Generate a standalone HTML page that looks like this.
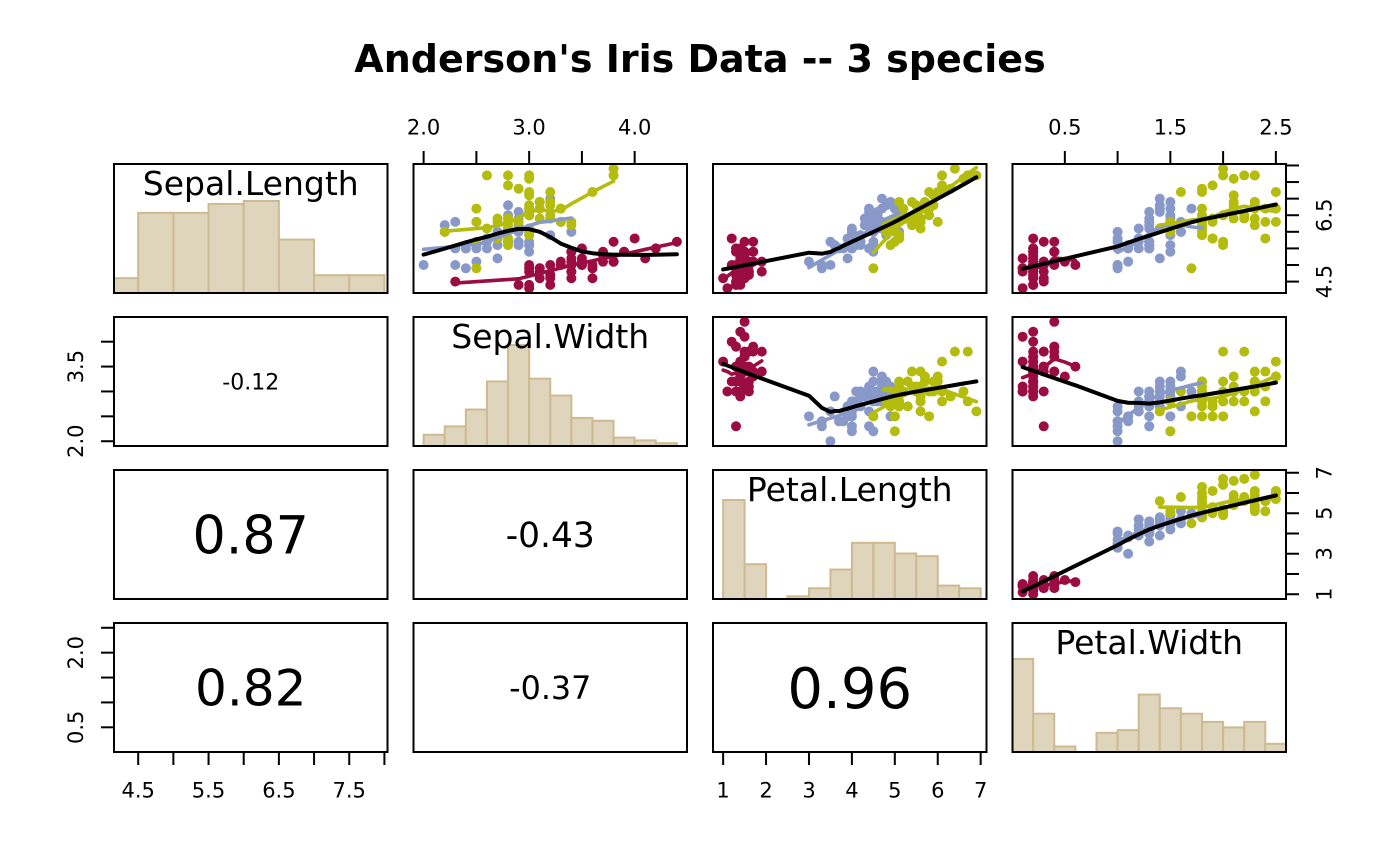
<!DOCTYPE html>
<html><head><meta charset="utf-8">
<style>
html,body{margin:0;padding:0;background:#fff;width:1400px;height:866px;overflow:hidden}
svg{display:block}
text{font-family:"DejaVu Sans","Liberation Sans",sans-serif;fill:#000}
</style></head><body>
<svg id="chart" xmlns="http://www.w3.org/2000/svg" width="1400" height="866" viewBox="0 0 1400 866">
<rect width="1400" height="866" fill="#fff"/>
<defs id="defs"></defs>
<g id="hist"></g>
<g id="pts"></g>
<g id="lines"></g>
<g font-size="33" text-anchor="middle">
<text x="250.75" y="195">Sepal.Length</text>
<text x="550.25" y="348">Sepal.Width</text>
<text x="849.75" y="501">Petal.Length</text>
<text x="1149.25" y="654">Petal.Width</text>
</g>
<g text-anchor="middle">
<text x="250.75" y="389.5" font-size="22">-0.12</text>
<text x="250.75" y="553.5" font-size="52.3">0.87</text>
<text x="550.25" y="547" font-size="34.4">-0.43</text>
<text x="250.75" y="705.7" font-size="50.1">0.82</text>
<text x="550.25" y="699" font-size="31.8">-0.37</text>
<text x="849.75" y="707.9" font-size="56">0.96</text>
</g>
<g fill="none" stroke="#000" stroke-width="2">
<rect x="114" y="164" width="273.5" height="129"/>
<rect x="413.5" y="164" width="273.5" height="129"/>
<rect x="713" y="164" width="273.5" height="129"/>
<rect x="1012.5" y="164" width="273.5" height="129"/>
<rect x="114" y="317" width="273.5" height="129"/>
<rect x="413.5" y="317" width="273.5" height="129"/>
<rect x="713" y="317" width="273.5" height="129"/>
<rect x="1012.5" y="317" width="273.5" height="129"/>
<rect x="114" y="470" width="273.5" height="129"/>
<rect x="413.5" y="470" width="273.5" height="129"/>
<rect x="713" y="470" width="273.5" height="129"/>
<rect x="1012.5" y="470" width="273.5" height="129"/>
<rect x="114" y="623" width="273.5" height="129"/>
<rect x="413.5" y="623" width="273.5" height="129"/>
<rect x="713" y="623" width="273.5" height="129"/>
<rect x="1012.5" y="623" width="273.5" height="129"/>
</g>
<g id="ticks" stroke="#000" stroke-width="2"></g>
<text x="700" y="72" text-anchor="middle" font-size="38" font-weight="bold">Anderson's Iris Data -- 3 species</text>
<g font-size="21" text-anchor="middle">
<text x="423.6" y="134.7">2.0</text>
<text x="529.1" y="134.7">3.0</text>
<text x="634.7" y="134.7">4.0</text>
<text x="1064.8" y="134.7">0.5</text>
<text x="1170.4" y="134.7">1.5</text>
<text x="1275.9" y="134.7">2.5</text>
<text x="138.2" y="797.7">4.5</text>
<text x="208.5" y="797.7">5.5</text>
<text x="278.9" y="797.7">6.5</text>
<text x="349.2" y="797.7">7.5</text>
<text x="723.1" y="797.7">1</text>
<text x="766.1" y="797.7">2</text>
<text x="809.0" y="797.7">3</text>
<text x="851.9" y="797.7">4</text>
<text x="894.8" y="797.7">5</text>
<text x="937.8" y="797.7">6</text>
<text x="980.7" y="797.7">7</text>
<text transform="translate(1331.3,281.6) rotate(-90)">4.5</text>
<text transform="translate(1331.3,215.2) rotate(-90)">6.5</text>
<text transform="translate(1331.3,594.2) rotate(-90)">1</text>
<text transform="translate(1331.3,553.7) rotate(-90)">3</text>
<text transform="translate(1331.3,513.2) rotate(-90)">5</text>
<text transform="translate(1331.3,472.8) rotate(-90)">7</text>
<text transform="translate(83,441.2) rotate(-90)">2.0</text>
<text transform="translate(83,366.6) rotate(-90)">3.5</text>
<text transform="translate(83,727.3) rotate(-90)">0.5</text>
<text transform="translate(83,652.7) rotate(-90)">2.0</text>
</g>
</svg>
<script>
const D = `5.1 3.5 1.4 0.2
4.9 3.0 1.4 0.2
4.7 3.2 1.3 0.2
4.6 3.1 1.5 0.2
5.0 3.6 1.4 0.2
5.4 3.9 1.7 0.4
4.6 3.4 1.4 0.3
5.0 3.4 1.5 0.2
4.4 2.9 1.4 0.2
4.9 3.1 1.5 0.1
5.4 3.7 1.5 0.2
4.8 3.4 1.6 0.2
4.8 3.0 1.4 0.1
4.3 3.0 1.1 0.1
5.8 4.0 1.2 0.2
5.7 4.4 1.5 0.4
5.4 3.9 1.3 0.4
5.1 3.5 1.4 0.3
5.7 3.8 1.7 0.3
5.1 3.8 1.5 0.3
5.4 3.4 1.7 0.2
5.1 3.7 1.5 0.4
4.6 3.6 1.0 0.2
5.1 3.3 1.7 0.5
4.8 3.4 1.9 0.2
5.0 3.0 1.6 0.2
5.0 3.4 1.6 0.4
5.2 3.5 1.5 0.2
5.2 3.4 1.4 0.2
4.7 3.2 1.6 0.2
4.8 3.1 1.6 0.2
5.4 3.4 1.5 0.4
5.2 4.1 1.5 0.1
5.5 4.2 1.4 0.2
4.9 3.1 1.5 0.2
5.0 3.2 1.2 0.2
5.5 3.5 1.3 0.2
4.9 3.6 1.4 0.1
4.4 3.0 1.3 0.2
5.1 3.4 1.5 0.2
5.0 3.5 1.3 0.3
4.5 2.3 1.3 0.3
4.4 3.2 1.3 0.2
5.0 3.5 1.6 0.6
5.1 3.8 1.9 0.4
4.8 3.0 1.4 0.3
5.1 3.8 1.6 0.2
4.6 3.2 1.4 0.2
5.3 3.7 1.5 0.2
5.0 3.3 1.4 0.2
7.0 3.2 4.7 1.4
6.4 3.2 4.5 1.5
6.9 3.1 4.9 1.5
5.5 2.3 4.0 1.3
6.5 2.8 4.6 1.5
5.7 2.8 4.5 1.3
6.3 3.3 4.7 1.6
4.9 2.4 3.3 1.0
6.6 2.9 4.6 1.3
5.2 2.7 3.9 1.4
5.0 2.0 3.5 1.0
5.9 3.0 4.2 1.5
6.0 2.2 4.0 1.0
6.1 2.9 4.7 1.4
5.6 2.9 3.6 1.3
6.7 3.1 4.4 1.4
5.6 3.0 4.5 1.5
5.8 2.7 4.1 1.0
6.2 2.2 4.5 1.5
5.6 2.5 3.9 1.1
5.9 3.2 4.8 1.8
6.1 2.8 4.0 1.3
6.3 2.5 4.9 1.5
6.1 2.8 4.7 1.2
6.4 2.9 4.3 1.3
6.6 3.0 4.4 1.4
6.8 2.8 4.8 1.4
6.7 3.0 5.0 1.7
6.0 2.9 4.5 1.5
5.7 2.6 3.5 1.0
5.5 2.4 3.8 1.1
5.5 2.4 3.7 1.0
5.8 2.7 3.9 1.2
6.0 2.7 5.1 1.6
5.4 3.0 4.5 1.5
6.0 3.4 4.5 1.6
6.7 3.1 4.7 1.5
6.3 2.3 4.4 1.3
5.6 3.0 4.1 1.3
5.5 2.5 4.0 1.3
5.5 2.6 4.4 1.2
6.1 3.0 4.6 1.4
5.8 2.6 4.0 1.2
5.0 2.3 3.3 1.0
5.6 2.7 4.2 1.3
5.7 3.0 4.2 1.2
5.7 2.9 4.2 1.3
6.2 2.9 4.3 1.3
5.1 2.5 3.0 1.1
5.7 2.8 4.1 1.3
6.3 3.3 6.0 2.5
5.8 2.7 5.1 1.9
7.1 3.0 5.9 2.1
6.3 2.9 5.6 1.8
6.5 3.0 5.8 2.2
7.6 3.0 6.6 2.1
4.9 2.5 4.5 1.7
7.3 2.9 6.3 1.8
6.7 2.5 5.8 1.8
7.2 3.6 6.1 2.5
6.5 3.2 5.1 2.0
6.4 2.7 5.3 1.9
6.8 3.0 5.5 2.1
5.7 2.5 5.0 2.0
5.8 2.8 5.1 2.4
6.4 3.2 5.3 2.3
6.5 3.0 5.5 1.8
7.7 3.8 6.7 2.2
7.7 2.6 6.9 2.3
6.0 2.2 5.0 1.5
6.9 3.2 5.7 2.3
5.6 2.8 4.9 2.0
7.7 2.8 6.7 2.0
6.3 2.7 4.9 1.8
6.7 3.3 5.7 2.1
7.2 3.2 6.0 1.8
6.2 2.8 4.8 1.8
6.1 3.0 4.9 1.8
6.4 2.8 5.6 2.1
7.2 3.0 5.8 1.6
7.4 2.8 6.1 1.9
7.9 3.8 6.4 2.0
6.4 2.8 5.6 2.2
6.3 2.8 5.1 1.5
6.1 2.6 5.6 1.4
7.7 3.0 6.1 2.3
6.3 3.4 5.6 2.4
6.4 3.1 5.5 1.8
6.0 3.0 4.8 1.8
6.9 3.1 5.4 2.1
6.7 3.1 5.6 2.4
6.9 3.1 5.1 2.3
5.8 2.7 5.1 1.9
6.8 3.2 5.9 2.3
6.7 3.3 5.7 2.5
6.7 3.0 5.2 2.3
6.3 2.5 5.0 1.9
6.5 3.0 5.2 2.0
6.2 3.4 5.4 2.3
5.9 3.0 5.1 1.8`;
const rows = D.trim().split('\n').map(l=>l.trim().split(/\s+/).map(Number));
const sp = rows.map((r,i)=> i<50?0:(i<100?1:2));
const cols = ['#9B0D42','#8899C9','#B4BC0E'];
const colX=[114,413.5,713,1012.5], rowY=[164,317,470,623], W=273.5, H=129;
const rng=[[4.156,8.044],[1.904,4.496],[0.764,7.136],[0.004,2.596]];
function px(j,v){return colX[j]+(v-rng[j][0])/(rng[j][1]-rng[j][0])*W;}
function py(i,v){return rowY[i]+H-(v-rng[i][0])/(rng[i][1]-rng[i][0])*H;}
const NS='http://www.w3.org/2000/svg';
function el(tag, attrs, parent){const e=document.createElementNS(NS,tag);for(const k in attrs)e.setAttribute(k,attrs[k]);parent.appendChild(e);return e;}

function lowess(xin, yin, f, nsteps){
  const n = xin.length;
  const idx = xin.map((v,i)=>i).sort((a,b)=> (xin[a]-xin[b]) || (a-b));
  const x=[0], y=[0];
  idx.forEach(i=>{x.push(xin[i]); y.push(yin[i]);});
  const delta = 0.01*(x[n]-x[1]);
  const ys=new Array(n+1).fill(0), rw=new Array(n+1).fill(0), res=new Array(n+1).fill(0);
  const ns = Math.max(2, Math.min(n, Math.floor(f*n+1e-7)));
  function lowest(xs, nleft, nright, userw){
    const range = x[n]-x[1];
    const h = Math.max(xs-x[nleft], x[nright]-xs);
    const h9=0.999*h, h1=0.001*h;
    const w=res;
    let a=0, j=nleft;
    while(j<=n){
      w[j]=0;
      const r=Math.abs(x[j]-xs);
      if(r<=h9){
        if(r<=h1) w[j]=1; else {const q=r/h; const t=1-q*q*q; w[j]=t*t*t;}
        if(userw) w[j]*=rw[j];
        a+=w[j];
      } else if(x[j]>xs) break;
      j++;
    }
    const nrt=j-1;
    if(a<=0) return null;
    for(j=nleft;j<=nrt;j++) w[j]/=a;
    if(h>0){
      a=0;
      for(j=nleft;j<=nrt;j++) a+=w[j]*x[j];
      let b=xs-a, c=0;
      for(j=nleft;j<=nrt;j++) c+=w[j]*(x[j]-a)*(x[j]-a);
      if(Math.sqrt(c)>0.001*range){
        b/=c;
        for(j=nleft;j<=nrt;j++) w[j]*=(b*(x[j]-a)+1);
      }
    }
    let s=0;
    for(j=nleft;j<=nrt;j++) s+=w[j]*y[j];
    return s;
  }
  let iter=1;
  while(iter<=nsteps+1){
    let nleft=1, nright=ns, last=0, i=1;
    for(;;){
      if(nright<n){
        const d1=x[i]-x[nleft], d2=x[nright+1]-x[i];
        if(d1>d2){nleft++; nright++; continue;}
      }
      const v=lowest(x[i], nleft, nright, iter>1);
      ys[i]=(v===null)?y[i]:v;
      if(last<i-1){
        const denom=x[i]-x[last];
        for(let j=last+1;j<i;j++){const al=(x[j]-x[last])/denom; ys[j]=al*ys[i]+(1-al)*ys[last];}
      }
      last=i;
      const cut=x[last]+delta;
      for(i=last+1;i<=n;i++){
        if(x[i]>cut) break;
        if(x[i]===x[last]){ys[i]=ys[last]; last=i;}
      }
      i=Math.max(last+1,i-1);
      if(last>=n) break;
    }
    for(let k=1;k<=n;k++) res[k]=y[k]-ys[k];
    let sc=0; for(let k=1;k<=n;k++) sc+=Math.abs(res[k]); sc/=n;
    if(iter>nsteps) break;
    const arr=[]; for(let k=1;k<=n;k++) arr.push(Math.abs(res[k]));
    arr.sort((a,b)=>a-b);
    const m1=Math.floor(n/2);
    let cmad;
    if(n%2===0){const m2=n-m1-1; cmad=3*(arr[m1]+arr[m2]);} else cmad=6*arr[m1];
    if(cmad<1e-7*sc) break;
    const c9=0.999*cmad, c1=0.001*cmad;
    for(let k=1;k<=n;k++){
      const r=Math.abs(res[k]);
      rw[k]= r<=c1 ? 1 : (r<=c9 ? Math.pow(1-(r/cmad)*(r/cmad),2) : 0);
    }
    iter++;
  }
  return {x:x.slice(1), y:ys.slice(1)};
}

const defs=document.getElementById('defs');
for(let i=0;i<4;i++)for(let j=0;j<4;j++){
  const cp=el('clipPath',{id:'c'+i+j},defs);
  el('rect',{x:colX[j],y:rowY[i],width:W,height:H},cp);
}

const hist=document.getElementById('hist');
const hb=[[40,80,5],[20,44,2],[10,70,5],[0,26,2]];
const hmax=[92,101,99,93];
for(let v=0;v<4;v++){
  const lo=hb[v][0], hi=hb[v][1], st=hb[v][2]; const nb=(hi-lo)/st;
  const cnt=new Array(nb).fill(0);
  rows.forEach(r=>{const xv=Math.round(r[v]*10); let k=Math.ceil((xv-lo)/st)-1; if(k<0)k=0; if(k>=nb)k=nb-1; cnt[k]++;});
  const mx=Math.max.apply(null,cnt);
  const g=el('g',{'clip-path':'url(#c'+v+v+')',fill:'#DFD5BD',stroke:'#CDBA90','stroke-width':2},hist);
  const bot=rowY[v]+H;
  for(let k=0;k<nb;k++){
    const x1=px(v,(lo+k*st)/10), x2=px(v,(lo+(k+1)*st)/10);
    const hh=cnt[k]/mx*hmax[v];
    el('rect',{x:x1,y:bot-hh,width:x2-x1,height:hh},g);
  }
}

const pts=document.getElementById('pts');
const lines=document.getElementById('lines');
for(let i=0;i<4;i++)for(let j=i+1;j<4;j++){
  const g=el('g',{'clip-path':'url(#c'+i+j+')'},pts);
  rows.forEach((r,k)=>{
    el('circle',{cx:px(j,r[j]).toFixed(2),cy:py(i,r[i]).toFixed(2),r:5,fill:cols[sp[k]]},g);
  });
  const lg=el('g',{'clip-path':'url(#c'+i+j+')',fill:'none','stroke-linejoin':'round','stroke-linecap':'round'},lines);
  for(let s=0;s<3;s++){
    const xs=[],yv=[];
    rows.forEach((r,k)=>{if(sp[k]===s){xs.push(r[j]);yv.push(r[i]);}});
    const L=lowess(xs,yv,2/3,3);
    const p=L.x.map((xx,q)=>px(j,xx).toFixed(2)+','+py(i,L.y[q]).toFixed(2)).join(' ');
    el('polyline',{points:p,stroke:cols[s],'stroke-width':3.6},lg);
  }
  const L=lowess(rows.map(r=>r[j]),rows.map(r=>r[i]),2/3,3);
  const p=L.x.map((xx,q)=>px(j,xx).toFixed(2)+','+py(i,L.y[q]).toFixed(2)).join(' ');
  el('polyline',{points:p,stroke:'#000','stroke-width':4},lg);
}

const tk=document.getElementById('ticks');
function line(x1,y1,x2,y2){el('line',{x1:x1,y1:y1,x2:x2,y2:y2},tk);}
function seq(a,b,s){const o=[];for(let v=a;v<=b+1e-9;v+=s)o.push(+v.toFixed(4));return o;}
seq(2.0,4.0,0.5).forEach(v=>line(px(1,v),151,px(1,v),164));
seq(0.5,2.5,0.5).forEach(v=>line(px(3,v),151,px(3,v),164));
seq(4.5,8.0,0.5).forEach(v=>line(px(0,v),752,px(0,v),765));
seq(1,7,1).forEach(v=>line(px(2,v),752,px(2,v),765));
seq(4.5,8.0,0.5).forEach(v=>line(1286,py(0,v),1299,py(0,v)));
seq(1,7,1).forEach(v=>line(1286,py(2,v),1299,py(2,v)));
seq(2.0,4.0,0.5).forEach(v=>line(101,py(1,v),114,py(1,v)));
seq(0.5,2.5,0.5).forEach(v=>line(101,py(3,v),114,py(3,v)));
</script>
</body></html>
